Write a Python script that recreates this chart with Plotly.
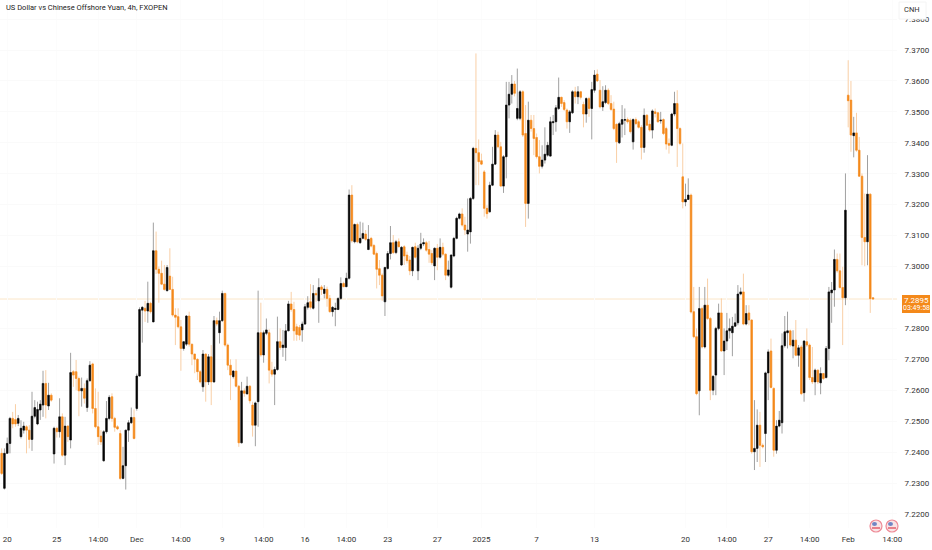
import plotly.graph_objects as go

# Prices in ten-thousandths above 7 (2396 means 7.2396)
opens_pts = [2396,2283,2396,2428,2509,2505,2493,2450,2471,2482,
2471,2441,2516,2491,2536,2552,2622,2549,2584,2394,
2477,2466,2514,2390,2484,2439,2660,2660,2638,2598,
2606,2544,2631,2685,2541,2482,2452,2372,2466,2509,
2579,2509,2482,2460,2315,2356,2471,2495,2512,2541,
2646,2859,2865,2856,2881,2821,3051,2991,2978,2943,
2922,2969,2926,2843,2838,2805,2735,2749,2840,2749,
2717,2700,2660,2611,2717,2627,2708,2627,2825,2786,
2825,2913,2746,2681,2644,2662,2613,2430,2598,2588,
2613,2552,2487,2563,2786,2714,2784,2786,2665,2652,
2667,2757,2738,2738,2792,2879,2861,2805,2803,2795,
2814,2868,2886,2865,2913,2889,2934,2913,2926,2897,
2854,2861,2861,2897,2945,2935,2962,3231,3080,3136,
3077,3091,3105,3055,3091,3068,3042,2993,2972,2886,
2994,3042,3077,3045,3080,3005,3064,3037,3021,2986,
3064,2986,3059,3073,3077,3055,3042,3002,3059,3030,
3062,3040,2972,2933,3034,3091,3156,3170,3134,3105,
3112,3220,3382,3368,3342,3306,3188,3177,3263,3331,
3425,3387,3260,3355,3522,3557,3590,3479,3479,3565,
3430,3204,3473,3446,3417,3355,3324,3344,3360,3357,
3465,3468,3511,3547,3530,3506,3468,3497,3565,3549,
3565,3524,3493,3543,3511,3570,3622,3570,3516,3530,
3570,3527,3509,3460,3400,3460,3473,3475,3473,3403,
3475,3468,3450,3385,3489,3460,3441,3500,3497,3471,
3475,3446,3398,3392,3493,3527,3446,3290,3209,3217,
3231,2854,2773,2598,2864,2740,2875,2832,2600,2649,
2800,2850,2727,2759,2792,2786,2807,2818,2911,2918,
2814,2850,2827,2401,2412,2487,2422,2460,2656,2727,
2606,2406,2484,2495,2744,2786,2792,2743,2762,2713,
2740,2592,2757,2746,2641,2627,2665,2624,2654,2641,
2735,2915,2924,3023,2986,2932,2899,3554,3538,3423,
3432,3376,3292,3094,3080,3234,2899]

closes_pts = [2331,2396,2428,2509,2491,2491,2509,2477,2484,2471,
2441,2516,2544,2538,2555,2622,2552,2584,2568,2477,
2466,2514,2390,2484,2450,2657,2649,2638,2598,2606,
2574,2631,2681,2541,2482,2450,2433,2466,2509,2577,
2509,2480,2475,2315,2356,2471,2495,2512,2444,2646,
2861,2868,2856,2881,2854,3051,2991,2978,2943,2926,
2997,2926,2843,2836,2805,2735,2757,2840,2749,2717,
2700,2660,2627,2717,2627,2708,2627,2825,2814,2825,
2913,2746,2681,2649,2662,2613,2430,2598,2590,2613,
2566,2487,2559,2786,2714,2786,2795,2665,2652,2667,
2757,2738,2746,2792,2879,2861,2792,2780,2778,2814,
2870,2883,2868,2913,2908,2932,2926,2927,2897,2854,
2868,2865,2897,2945,2935,2962,3231,3083,3136,3080,
3091,3107,3088,3088,3066,3040,2991,2972,2905,2997,
3042,3077,3045,3080,3064,3062,3034,3019,2986,3062,
3030,3059,3073,3077,3053,3040,3012,3059,3030,3062,
3040,2972,2989,3037,3091,3156,3170,3134,3118,3118,
3220,3382,3368,3339,3331,3188,3171,3263,3331,3425,
3387,3260,3355,3522,3557,3590,3560,3511,3565,3425,
3204,3473,3446,3414,3355,3324,3344,3363,3392,3468,
3468,3513,3547,3527,3508,3468,3500,3565,3549,3565,
3547,3493,3543,3511,3572,3619,3600,3516,3533,3570,
3527,3508,3446,3403,3462,3475,3475,3468,3436,3475,
3462,3450,3385,3489,3457,3441,3503,3495,3468,3473,
3430,3396,3392,3493,3527,3446,3398,3209,3217,3231,
2853,2773,2589,2864,2740,2875,2832,2600,2645,2800,
2850,2727,2759,2792,2800,2807,2818,2911,2918,2814,
2848,2827,2401,2412,2487,2422,2417,2656,2724,2609,
2406,2484,2503,2744,2789,2792,2746,2762,2713,2737,
2589,2759,2746,2641,2627,2665,2627,2654,2638,2735,
2918,2924,3023,2986,2932,2899,3182,3536,3425,3432,
3376,3292,3094,3080,3234,2896,2895]

highs_pts = [2412,2412,2447,2514,2530,2555,2520,2503,2498,2487,
2487,2595,2568,2563,2568,2663,2665,2624,2590,2482,
2482,2574,2525,2514,2487,2721,2665,2698,2644,2641,
2622,2638,2694,2689,2606,2595,2471,2471,2565,2584,
2590,2514,2487,2471,2417,2471,2503,2544,2538,2654,
2868,2872,2889,2951,2886,3142,3113,3000,3019,3005,
3005,3059,2967,2865,2865,2827,2757,2843,2854,2749,
2717,2703,2665,2730,2719,2717,2746,2840,2835,2854,
2922,2915,2751,2700,2665,2700,2617,2627,2606,2644,
2617,2563,2563,2922,2883,2793,2832,2797,2692,2676,
2838,2800,2795,2814,2889,2918,2886,2815,2811,2822,
2879,2904,2943,2940,2924,2962,2940,2940,2935,2908,
2872,2883,2900,2965,2951,2980,3249,3263,3139,3142,
3145,3142,3118,3134,3096,3073,3048,3021,2978,2999,
3050,3131,3102,3086,3091,3066,3069,3048,3034,3064,
3077,3069,3109,3091,3083,3083,3053,3062,3073,3091,
3077,3042,3019,3040,3096,3161,3174,3188,3161,3220,
3225,3387,3689,3411,3365,3312,3198,3274,3387,3441,
3436,3403,3360,3597,3597,3619,3600,3640,3570,3570,
3522,3533,3490,3490,3430,3409,3392,3450,3403,3484,
3490,3522,3611,3549,3538,3511,3506,3570,3581,3583,
3568,3533,3547,3549,3597,3635,3637,3603,3583,3586,
3576,3554,3533,3462,3468,3522,3511,3482,3479,3479,
3482,3473,3457,3511,3493,3473,3508,3511,3500,3500,
3479,3452,3414,3497,3565,3570,3450,3398,3268,3285,
3236,2934,2800,2934,2870,2934,2961,2837,2649,2805,
2880,2897,2800,2850,2832,2837,2848,2940,2932,2977,
2875,2875,2829,2568,2538,2530,2428,2660,2732,2767,
2609,2503,2533,2784,2840,2854,2796,2794,2827,2746,
2746,2762,2800,2751,2740,2670,2667,2674,2656,2743,
2934,2950,3055,3042,3042,2999,3301,3667,3600,3484,
3497,3419,3301,3236,3360,3236,2901]

lows_pts = [2326,2279,2394,2396,2477,2482,2484,2444,2460,2396,
2412,2404,2509,2487,2504,2514,2509,2536,2563,2363,
2447,2447,2385,2358,2433,2412,2611,2600,2516,2547,
2557,2530,2627,2525,2477,2423,2423,2369,2460,2503,
2498,2466,2471,2310,2312,2279,2433,2491,2441,2534,
2644,2754,2821,2818,2848,2821,2976,2883,2940,2922,
2919,2924,2838,2746,2800,2663,2728,2743,2741,2681,
2655,2633,2622,2595,2563,2617,2552,2624,2807,2751,
2821,2741,2665,2568,2638,2609,2417,2428,2579,2588,
2557,2450,2419,2482,2708,2689,2778,2622,2644,2552,
2663,2730,2708,2695,2792,2854,2760,2760,2762,2757,
2811,2861,2861,2861,2886,2818,2908,2897,2870,2851,
2838,2807,2859,2892,2933,2933,2958,3077,3075,3075,
3073,3088,3083,3053,3062,3037,2929,2940,2889,2840,
2990,3023,3040,3040,3062,3002,3005,3010,2972,2969,
3026,2956,3053,3066,3048,3012,3005,2956,2988,3026,
3034,2956,2967,2929,3030,3088,3152,3129,3102,3048,
3074,3215,3263,3263,3328,3161,3155,3174,3260,3328,
3382,3258,3238,3285,3479,3527,3550,3473,3473,3419,
3128,3155,3436,3360,3349,3301,3317,3333,3355,3355,
3425,3436,3506,3516,3503,3446,3432,3493,3527,3525,
3540,3450,3465,3484,3411,3562,3597,3511,3503,3525,
3522,3503,3441,3335,3396,3417,3425,3462,3430,3378,
3457,3446,3346,3368,3454,3436,3414,3482,3465,3462,
3425,3378,3365,3389,3486,3322,3392,3188,3195,3215,
2848,2768,2584,2519,2735,2735,2827,2568,2584,2584,
2794,2724,2649,2730,2767,2710,2805,2810,2907,2810,
2810,2810,2395,2342,2368,2352,2412,2368,2568,2606,
2385,2395,2480,2460,2738,2735,2740,2703,2710,2676,
2584,2563,2740,2633,2620,2584,2620,2587,2633,2638,
2697,2818,2870,2980,2929,2746,2875,3450,3371,3353,
3371,3290,3004,3001,3004,2850,2893]

x_tick_index = [2,20,35,49,65,80,95,110,125,140,158,174,194,215,248,263,278,293,307,323]
x_tick_text = ["20","25","14:00","Dec","14:00","9","14:00","16","14:00","23","27","2025","7","13","20","14:00","27","14:00","Feb","14:00"]
y_ticks = [7.22,7.23,7.24,7.25,7.26,7.27,7.28,7.30,7.31,7.32,7.33,7.34,7.35,7.36,7.37,7.38]
last_price = 7.2895
title_text = "US Dollar vs Chinese Offshore Yuan, 4h, FXOPEN"
countdown = "03:49:58"
symbol = "CNH"

ORANGE = "#f4891a"
ORANGE_WICK = "#f9cfa6"
BLACK = "#050505"
BLACK_WICK = "#a0a0a0"
NARROW = "'Liberation Sans Narrow', 'Roboto', sans-serif"

to_price = lambda pts: [7 + v / 10000 for v in pts]
o, h, l, c = map(to_price, (opens_pts, highs_pts, lows_pts, closes_pts))
x = list(range(len(o)))
top = [max(a, b) for a, b in zip(o, c)]
bot = [min(a, b) for a, b in zip(o, c)]

fig = go.Figure()
fig.add_trace(go.Candlestick(
    x=x, open=o, high=h, low=l, close=c, whiskerwidth=0,
    increasing=dict(line=dict(color=BLACK_WICK, width=1), fillcolor=BLACK_WICK),
    decreasing=dict(line=dict(color=ORANGE_WICK, width=1), fillcolor=ORANGE_WICK),
    showlegend=False, hoverinfo="skip"))
fig.add_trace(go.Candlestick(
    x=x, open=o, high=top, low=bot, close=c, whiskerwidth=0,
    increasing=dict(line=dict(color=BLACK, width=0.5), fillcolor=BLACK),
    decreasing=dict(line=dict(color=ORANGE, width=0.5), fillcolor=ORANGE),
    showlegend=False, hoverinfo="skip"))

W, H, PW, PH = 932, 550, 897, 528
px = lambda v: v / PW
py = lambda v: 1 - v / PH
shapes = [
    dict(type="line", xref="paper", x0=0, x1=1, yref="y", y0=last_price, y1=last_price,
         line=dict(color="#fbe6c8", width=1), layer="below"),
    dict(type="rect", xref="paper", yref="paper", x0=px(899), x1=px(926), y0=py(2), y1=py(19),
         fillcolor="white", line=dict(color="#f4f4f4", width=1), layer="above"),
    dict(type="rect", xref="paper", yref="paper", x0=px(902), x1=px(930), y0=py(295), y1=py(313),
         fillcolor=ORANGE, line=dict(width=0), layer="above"),
]
for cx in (876, 892):
    shapes += [
        dict(type="circle", xref="paper", yref="paper", x0=px(cx-6), x1=px(cx+6), y0=py(520), y1=py(532),
             fillcolor="#f9e4e6", line=dict(color="#ee8a96", width=1.2), layer="above"),
        dict(type="line", xref="paper", yref="paper", x0=px(cx-4), x1=px(cx+4), y0=py(528), y1=py(528),
             line=dict(color="#e2606c", width=1.5), layer="above"),
        dict(type="circle", xref="paper", yref="paper", x0=px(cx-4), x1=px(cx+1), y0=py(522), y1=py(526),
             fillcolor="#6f86c4", line=dict(width=0), layer="above"),
    ]

fig.update_layout(
    width=W, height=H, autosize=False,
    margin=dict(l=0, r=W-PW, t=0, b=H-PH),
    paper_bgcolor="white", plot_bgcolor="white", showlegend=False,
    boxgap=0.2, shapes=shapes,
    font=dict(family=NARROW, size=8, color="#3a3a3a"),
    xaxis=dict(range=[-0.606, 324.7], rangeslider=dict(visible=False), tickmode="array",
               tickvals=x_tick_index, ticktext=x_tick_text, showgrid=True, gridcolor="#fcfcfc",
               ticks="outside", ticklen=3, tickcolor="white", zeroline=False, showline=False,
               tickfont=dict(family=NARROW, size=8, color="#333333")),
    yaxis=dict(range=[7.21546, 7.38617], side="right", tickmode="array", tickvals=y_ticks,
               ticktext=[f"{v:.4f}" for v in y_ticks], showgrid=True, gridcolor="#fafafa",
               ticks="outside", ticklen=5, tickcolor="white", zeroline=False, showline=False,
               tickfont=dict(family=NARROW, size=8, color="#333333")),
    annotations=[
        dict(text=title_text, xref="paper", yref="paper", x=px(4), y=py(8), xanchor="left", yanchor="middle",
             showarrow=False, font=dict(family=NARROW, size=7.5, color="#222222")),
        dict(text=symbol, xref="paper", yref="paper", x=px(912), y=py(10), xanchor="center", yanchor="middle",
             showarrow=False, font=dict(family=NARROW, size=7.5, color="#333333")),
        dict(text=f"{last_price:.4f}", xref="paper", yref="paper", x=px(916), y=py(300),
             xanchor="center", yanchor="middle", showarrow=False,
             font=dict(family=NARROW, size=8, color="white")),
        dict(text=countdown, xref="paper", yref="paper", x=px(916), y=py(308),
             xanchor="center", yanchor="middle", showarrow=False,
             font=dict(family=NARROW, size=7, color="white")),
    ],
)
fig.write_html("out.html", config=dict(displayModeBar=False),
               post_script="document.body.style.margin='0';document.body.style.overflow='hidden';")
